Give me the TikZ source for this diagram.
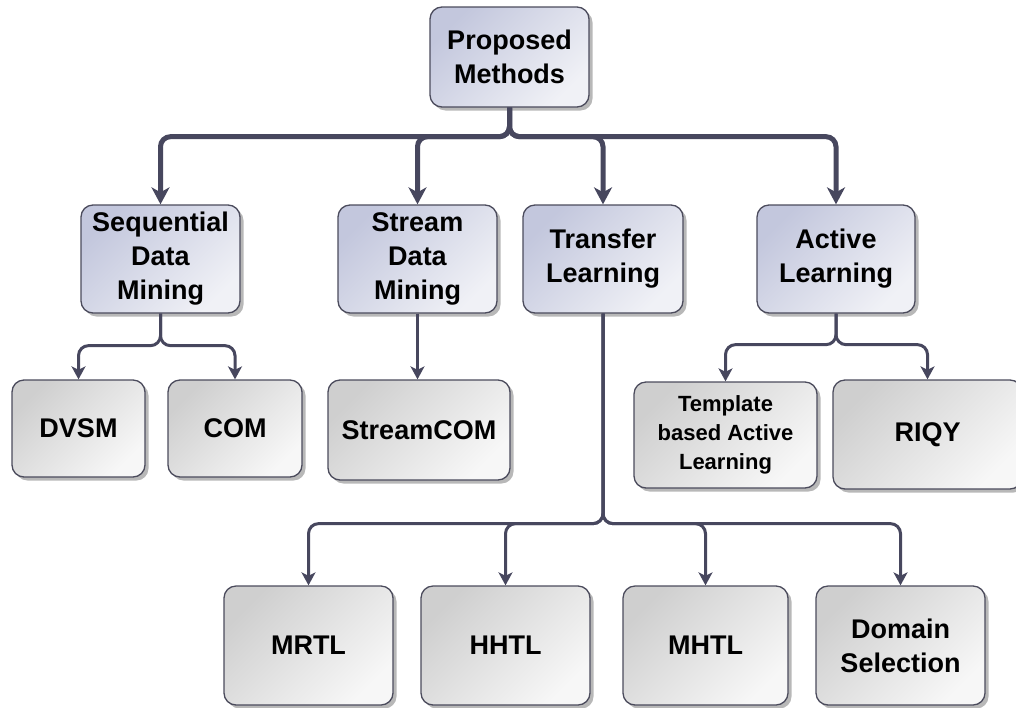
\documentclass[tikz,border=0pt]{standalone}
\usepackage{fontspec}
\setmainfont{Liberation Sans}
\usetikzlibrary{arrows.meta,shadows}

\definecolor{linecol}{HTML}{47475E}
\definecolor{edgecol}{HTML}{4B4B5C}
\definecolor{blueA}{HTML}{C3C7DD}
\definecolor{blueB}{HTML}{F0F1F6}
\definecolor{greyA}{HTML}{CFCFCF}
\definecolor{greyB}{HTML}{F7F7F7}

\tikzset{
  box/.style={draw=edgecol, line width=1.3pt, rounded corners=12pt,
    inner sep=0pt, align=center,
    font=\fontsize{27}{34}\selectfont\bfseries,
    drop shadow={shadow xshift=3.5pt, shadow yshift=-3.5pt,
      fill=black!35, opacity=0.8}},
  topbox/.style={box, top color=blueA, bottom color=blueB, shading angle=45},
  leafbox/.style={box, top color=greyA, bottom color=greyB, shading angle=45},
  bus/.style={draw=linecol, line width=5pt, rounded corners=10pt,
    -{Stealth[length=17pt,width=18pt,inset=5pt]}},
  branch/.style={draw=linecol, line width=3pt, rounded corners=10pt,
    -{Stealth[length=13pt,width=14pt,inset=3.5pt]}},
}

\begin{document}
\begin{tikzpicture}[x=1pt,y=-1pt]
\useasboundingbox (0,0) rectangle (1016,707);

% root
\node[topbox, minimum width=159pt, minimum height=100pt] (pm) at (509.5,57) {Proposed\\Methods};

% main research lines
\node[topbox, minimum width=159pt, minimum height=108pt] (sdm)  at (160.5,259) {Sequential\\Data\\Mining};
\node[topbox, minimum width=159pt, minimum height=108pt] (stdm) at (417.5,259) {Stream\\Data\\Mining};
\node[topbox, minimum width=160pt, minimum height=108pt] (tl)   at (603,259)   {Transfer\\Learning};
\node[topbox, minimum width=158pt, minimum height=108pt] (al)   at (836,259)   {Active\\Learning};

% methods
\node[leafbox, minimum width=133pt, minimum height=97pt]  (dvsm) at (78.5,428.5) {DVSM};
\node[leafbox, minimum width=134pt, minimum height=97pt]  (com)  at (235,428.5)  {COM};
\node[leafbox, minimum width=182pt, minimum height=100pt] (scom) at (419,430)    {StreamCOM};
\node[leafbox, minimum width=183pt, minimum height=106pt,
      font=\fontsize{22}{29}\selectfont\bfseries] (tal) at (725.5,435) {Template\\based Active\\Learning};
\node[leafbox, minimum width=189pt, minimum height=109pt] (riqy) at (927.5,434.5) {RIQY};

\node[leafbox, minimum width=169pt, minimum height=119pt] (mrtl) at (308.5,645.5) {MRTL};
\node[leafbox, minimum width=169pt, minimum height=119pt] (hhtl) at (505.5,645.5) {HHTL};
\node[leafbox, minimum width=165pt, minimum height=119pt] (mhtl) at (705.5,645.5) {MHTL};
\node[leafbox, minimum width=169pt, minimum height=119pt] (ds)   at (900.5,645.5) {Domain\\Selection};

% root to research lines
\draw[bus] (pm.south) -- ++(0,29) -| (sdm.north);
\draw[bus] (pm.south) -- ++(0,29) -| (stdm.north);
\draw[bus] (pm.south) -- ++(0,29) -| (tl.north);
\draw[bus] (pm.south) -- ++(0,29) -| (al.north);

% research lines to methods
\draw[branch] (sdm.south) -- ++(0,32) -| (dvsm.north);
\draw[branch] (sdm.south) -- ++(0,32) -| (com.north);
\draw[branch] (stdm.south) -- (stdm.south |- scom.north);
\draw[branch] (al.south) -- ++(0,31) -| (tal.north);
\draw[branch] (al.south) -- ++(0,31) -| (riqy.north);
\draw[branch] (tl.south) -- ++(0,210) -| (mrtl.north);
\draw[branch] (tl.south) -- ++(0,210) -| (hhtl.north);
\draw[branch] (tl.south) -- ++(0,210) -| (mhtl.north);
\draw[branch] (tl.south) -- ++(0,210) -| (ds.north);
\end{tikzpicture}
\end{document}
